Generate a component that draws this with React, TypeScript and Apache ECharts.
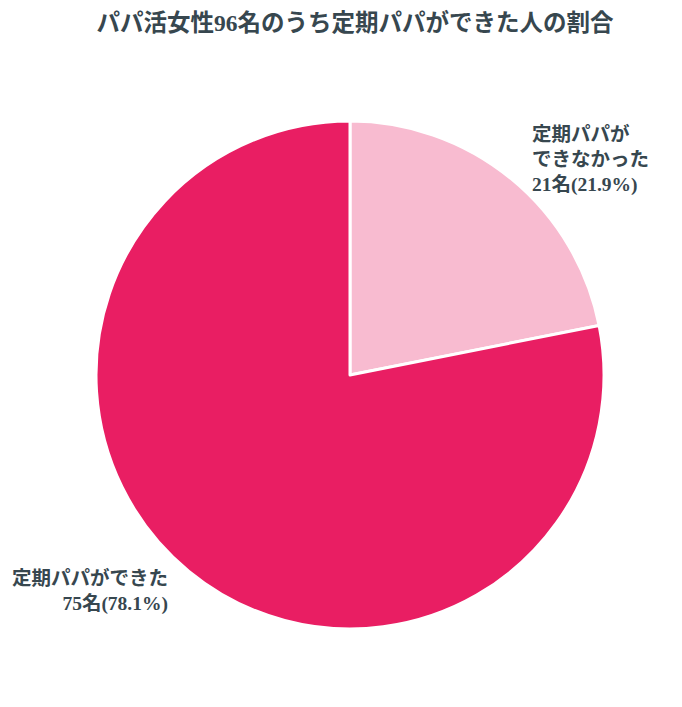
import React, { useEffect, useRef } from "react";
import * as echarts from "echarts";

const titleText = "パパ活女性96名のうち定期パパができた人の割合";
const categories = ["定期パパが\nできなかった", "定期パパができた"];
const values = [21, 75];
const colors = ["#f8bbd0", "#e91e63"];

export default function App() {
  const ref = useRef<HTMLDivElement>(null);
  useEffect(() => {
    document.body.style.margin = "0";
    const chart = echarts.init(ref.current!, null, { renderer: "svg" });
    const font = "'Liberation Serif', 'Noto Sans CJK JP', serif";
    chart.setOption({
      animation: false,
      backgroundColor: "#ffffff",
      title: {
        text: titleText,
        left: 350,
        top: 6,
        textAlign: "center",
        textStyle: { fontFamily: font, fontSize: 23.5, fontWeight: "bold", color: "#37474f" },
      },
      series: [
        {
          type: "pie",
          center: [350, 375],
          radius: 254,
          startAngle: 90,
          clockwise: true,
          percentPrecision: 1,
          data: categories.map((name, i) => ({
            name,
            value: values[i],
            itemStyle: { color: colors[i] },
          })),
          itemStyle: { borderColor: "#ffffff", borderWidth: 3 },
          label: {
            show: true,
            position: "outside",
            formatter: "{b}\n{c}名({d}%)",
            fontFamily: font,
            fontSize: 19.5,
            fontWeight: "bold",
            color: "#37474f",
            lineHeight: 25,
          },
          labelLine: { show: false, length: 25, length2: 0 },
          emphasis: { disabled: true },
        },
      ],
    });
    return () => chart.dispose();
  }, []);
  return <div ref={ref} style={{ width: 682, height: 707 }} />;
}
